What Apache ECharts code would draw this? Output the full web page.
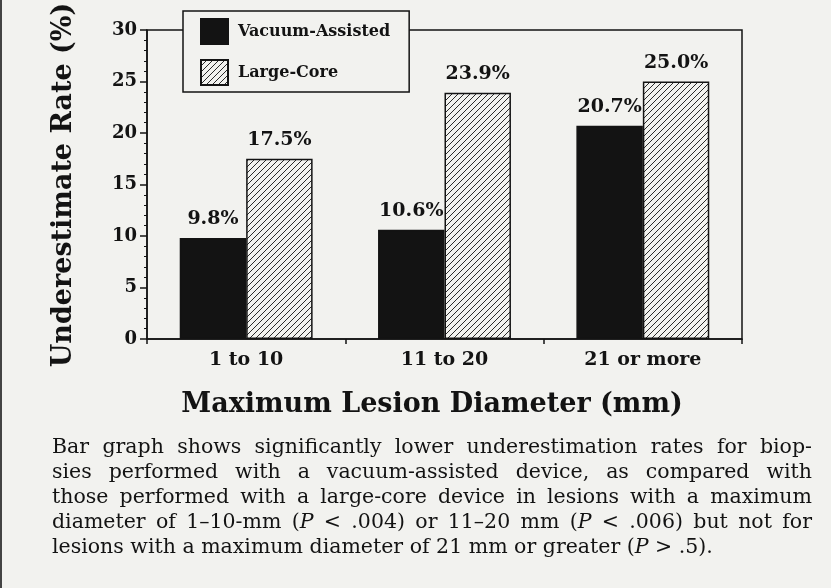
<!DOCTYPE html>
<html><head><meta charset="utf-8">
<script src="https://cdn.jsdelivr.net/npm/echarts@6/dist/echarts.min.js"></script>
<style>html,body{margin:0;padding:0;background:#f2f2ef}#c{width:831px;height:588px}</style>
</head><body><div id="c"></div>
<script>
const categories = ['1 to 10', '11 to 20', '21 or more'];
const vacuumAssisted = [9.8, 10.6, 20.7];
const largeCore = [17.5, 23.9, 25.0];
const seriesNames = ['Vacuum-Assisted', 'Large-Core'];
const yTicks = [0, 5, 10, 15, 20, 25, 30];
const yTitle = 'Underestimate Rate (%)';
const xTitle = 'Maximum Lesion Diameter (mm)';
const captionLines = [
  'Bar graph shows significantly lower underestimation rates for biop-',
  'sies performed with a vacuum-assisted device, as compared with',
  'those performed with a large-core device in lesions with a maximum',
  'diameter of 1–10-mm (*P* < .004) or 11–20 mm (*P* < .006) but not for',
  'lesions with a maximum diameter of 21 mm or greater (*P* > .5).'
];

const PAPER = '#f2f2ef';
const INK = '#131313';
const SERIF_B = '"DejaVu Serif", serif';
const CAP_FONT_SIZE = 20.5;
const CAP_FAMILY = '"DejaVu Serif", serif';

function hatch() {
  const s = 6, c = document.createElement('canvas');
  c.width = s; c.height = s;
  const g = c.getContext('2d');
  g.fillStyle = PAPER; g.fillRect(0, 0, s, s);
  g.strokeStyle = INK; g.lineWidth = 0.9;
  for (const k of [-s, 0, s]) { g.beginPath(); g.moveTo(k, s); g.lineTo(k + s, 0); g.stroke(); }
  return c;
}

const chart = echarts.init(document.getElementById('c'), null, {renderer: 'canvas'});

// caption words, justified
const mc = document.createElement('canvas').getContext('2d');
function segs(word) {
  const out = []; const parts = word.split('*');
  parts.forEach((p, i) => { if (p) out.push({t: p, it: i % 2 === 1}); });
  return out;
}
function wWidth(word) {
  let w = 0;
  for (const s of segs(word)) {
    mc.font = (s.it ? 'italic ' : '') + CAP_FONT_SIZE + 'px ' + CAP_FAMILY;
    w += mc.measureText(s.t).width;
  }
  return w;
}
const capLeft = 52, capRight = 812, capTop = 448, capStep = 25;
const captionEls = [];
captionLines.forEach((line, li) => {
  const words = line.split(' ');
  const widths = words.map(wWidth);
  const total = widths.reduce((a, b) => a + b, 0);
  mc.font = CAP_FONT_SIZE + 'px ' + CAP_FAMILY;
  const last = li === captionLines.length - 1;
  const gap = last ? mc.measureText(' ').width : (capRight - capLeft - total) / (words.length - 1);
  let x = capLeft;
  words.forEach((w, wi) => {
    const text = segs(w).map(s => s.it ? '{i|' + s.t + '}' : s.t).join('');
    captionEls.push({
      type: 'text', x: x, y: capTop + li * capStep, silent: true,
      style: {
        text: text, fill: INK, font: CAP_FONT_SIZE + 'px ' + CAP_FAMILY,
        verticalAlign: 'middle', align: 'left',
        rich: {i: {fontStyle: 'italic', fontSize: CAP_FONT_SIZE, fontFamily: CAP_FAMILY, fill: INK, color: INK}}
      }
    });
    x += widths[wi] + gap;
  });
});

const option = {
  backgroundColor: PAPER,
  animation: false,
  grid: {left: 147, right: 89, top: 30, bottom: 249, show: true, borderColor: INK, borderWidth: 1.5, backgroundColor: 'transparent'},
  legend: {
    orient: 'vertical', left: 183, top: 11, itemWidth: 27, itemHeight: 25, itemGap: 14,
    padding: [7, 19, 6, 17], backgroundColor: PAPER, borderColor: INK, borderWidth: 1.5,
    icon: 'rect', data: seriesNames,
    textStyle: {fontFamily: SERIF_B, fontWeight: 'bold', fontSize: 16, color: INK, padding: [0, 0, 0, 5]}
  },
  xAxis: {
    type: 'category', data: categories,
    axisLine: {lineStyle: {color: INK, width: 1.5}},
    axisTick: {show: true, length: 5, lineStyle: {color: INK, width: 1.5}},
    axisLabel: {fontFamily: SERIF_B, fontWeight: 'bold', fontSize: 19, color: INK, margin: 12}
  },
  yAxis: {
    type: 'value', min: yTicks[0], max: yTicks[yTicks.length - 1], interval: yTicks[1] - yTicks[0],
    axisLine: {show: true, lineStyle: {color: INK, width: 1.5}},
    axisTick: {show: true, length: 7, lineStyle: {color: INK, width: 1.5}},
    minorTick: {show: true, splitNumber: 5, length: 3, lineStyle: {color: INK, width: 1}},
    splitLine: {show: false},
    axisLabel: {fontFamily: SERIF_B, fontWeight: 'bold', fontSize: 18, color: INK, margin: 10}
  },
  series: [
    {
      name: seriesNames[0], type: 'bar', data: vacuumAssisted, barGap: '0%', barCategoryGap: '33%',
      itemStyle: {color: INK, borderColor: INK, borderWidth: 1.5},
      label: {show: true, position: 'top', distance: 9, formatter: p => p.value.toFixed(1) + '%',
        fontFamily: SERIF_B, fontWeight: 'bold', fontSize: 19, color: INK}
    },
    {
      name: seriesNames[1], type: 'bar', data: largeCore, barGap: '0%', barCategoryGap: '33%',
      itemStyle: {color: {image: hatch(), repeat: 'repeat'}, borderColor: INK, borderWidth: 1.5},
      label: {show: true, position: 'top', distance: 9, formatter: p => p.value.toFixed(1) + '%',
        fontFamily: SERIF_B, fontWeight: 'bold', fontSize: 19, color: INK}
    }
  ],
  graphic: [
    {type: 'rect', left: 0, top: 0, shape: {width: 2, height: 588}, style: {fill: '#444'}, silent: true},
    {type: 'text', x: 64, y: 185, rotation: Math.PI / 2, silent: true,
      style: {text: yTitle, font: 'bold 27px ' + SERIF_B, fill: INK, align: 'center', verticalAlign: 'middle'}},
    {type: 'text', x: 432, y: 405, silent: true,
      style: {text: xTitle, font: 'bold 27px ' + SERIF_B, fill: INK, align: 'center', verticalAlign: 'middle'}}
  ].concat(captionEls)
};
chart.setOption(option);
</script></body></html>
